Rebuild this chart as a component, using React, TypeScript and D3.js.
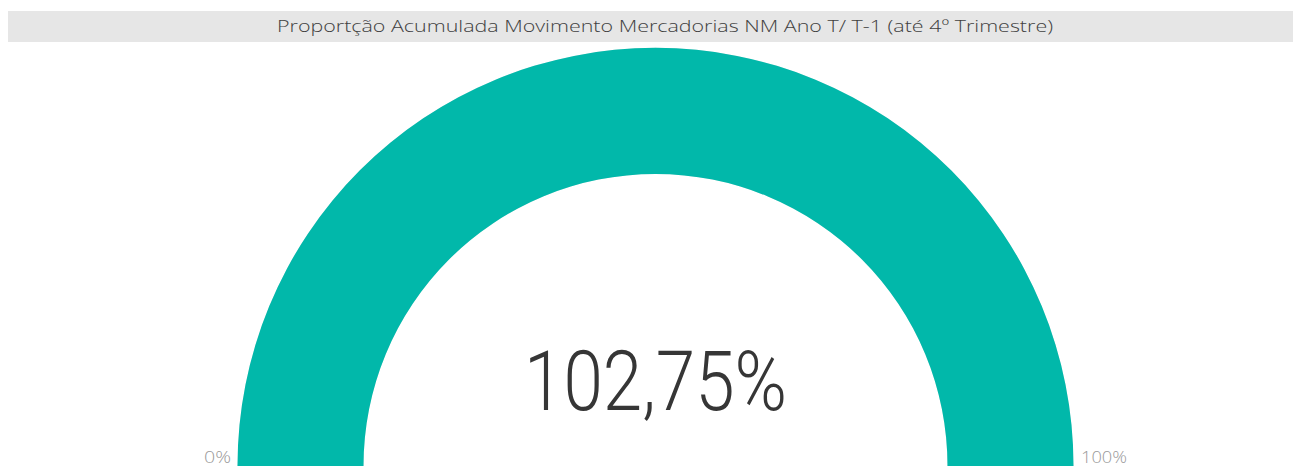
import React from "react";
import * as d3 from "d3";

const title = "Proportção Acumulada Movimento Mercadorias NM Ano T/ T-1 (até 4º Trimestre)";
const gaugeValue = [102.75];
const gaugeRange = [0, 100];
const rangeLabels = ["0%", "100%"];

const W = 1294;
const H = 468;

export default function App() {
  const cx = 655.5;
  const cy = 466;
  const outerR = 418;
  const innerR = 292;

  const angle = d3
    .scaleLinear()
    .domain(gaugeRange)
    .range([-Math.PI / 2, Math.PI / 2])
    .clamp(true);

  const arcGen = d3.arc<any>().innerRadius(innerR).outerRadius(outerR);
  const bgPath = arcGen({ startAngle: angle(gaugeRange[0]), endAngle: angle(gaugeRange[1]) } as any) || "";
  const valPath = arcGen({ startAngle: angle(gaugeRange[0]), endAngle: angle(gaugeValue[0]) } as any) || "";

  const fmt = (v: number) => v.toFixed(2).replace(".", ",") + "%";

  return (
    <svg
      width={W}
      height={H}
      style={{ position: "absolute", left: 0, top: 0, display: "block" }}
    >
      <rect x={8} y={11} width={1285} height={31} fill="#E6E6E6" />
      <text
        x={665}
        y={32}
        textAnchor="middle"
        fontFamily="'Open Sans', 'Noto Sans', sans-serif"
        fontWeight={300}
        fontSize={17}
        fill="#404040"
        textLength={776}
        lengthAdjust="spacingAndGlyphs"
      >
        {title}
      </text>
      <g transform={`translate(${cx},${cy})`}>
        <path d={bgPath} fill="#E8E8E8" />
        <path d={valPath} fill="#01B8AA" />
      </g>
      <text
        x={cx}
        y={410}
        textAnchor="middle"
        fontFamily="Roboto, sans-serif"
        fontWeight={300}
        fontSize={84}
        fill="#363636"
        textLength={263}
        lengthAdjust="spacingAndGlyphs"
      >
        {fmt(gaugeValue[0])}
      </text>
      <text
        x={231}
        y={463}
        textAnchor="end"
        fontFamily="'Open Sans', sans-serif"
        fontWeight={300}
        fontSize={16}
        fill="#999999"
        textLength={27}
        lengthAdjust="spacingAndGlyphs"
      >
        {rangeLabels[0]}
      </text>
      <text
        x={1081}
        y={463}
        textAnchor="start"
        fontFamily="'Open Sans', sans-serif"
        fontWeight={300}
        fontSize={16}
        fill="#999999"
        textLength={46}
        lengthAdjust="spacingAndGlyphs"
      >
        {rangeLabels[1]}
      </text>
    </svg>
  );
}
